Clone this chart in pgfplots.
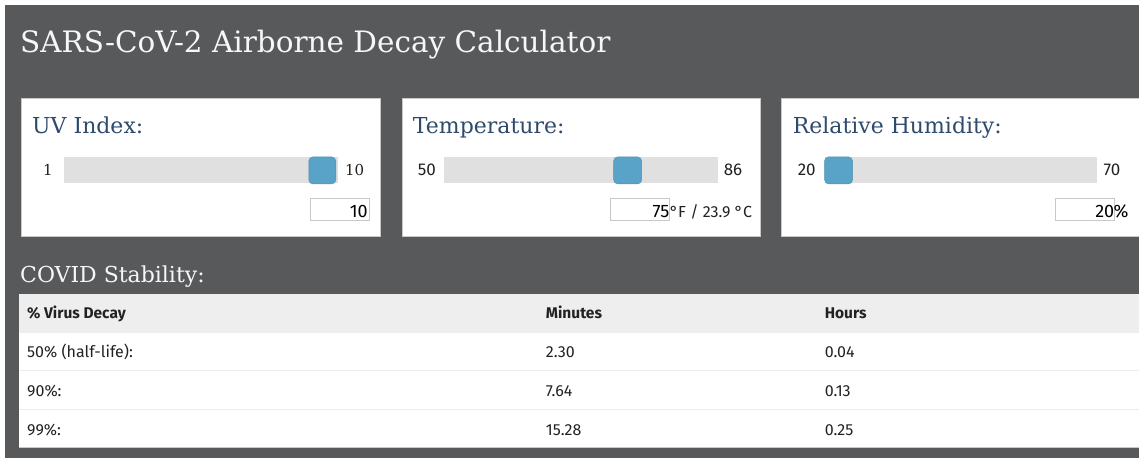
\documentclass[border=0pt]{standalone}
\usepackage{pgfplots}
\pgfplotsset{compat=1.18}
\usepackage{fontspec}
\setmainfont{DejaVu Serif}
\newfontfamily\fira{Fira Sans}
\definecolor{bgdark}{HTML}{58595B}
\definecolor{panelborder}{HTML}{C8C8C8}
\definecolor{titleblue}{HTML}{2F4B6C}
\definecolor{track}{HTML}{E0E0E0}
\definecolor{handle}{HTML}{58A3C7}
\definecolor{handleedge}{HTML}{5092B3}
\definecolor{headbg}{HTML}{EEEEEE}
\definecolor{rowline}{HTML}{ECECEC}
\definecolor{txt}{HTML}{222222}
\definecolor{offwhite}{HTML}{F7F7F7}
\begin{document}
\begin{tikzpicture}
\begin{axis}[width=1140pt,height=458pt,scale only axis,
  xmin=0,xmax=1140,ymin=0,ymax=458,y dir=reverse,
  axis lines=none,ticks=none,clip=false]
% background
\fill[white] (axis cs:0,0) rectangle (axis cs:1140,458);
\fill[bgdark] (axis cs:5,5) rectangle (axis cs:1140,458);
% title
\node[anchor=base west,inner sep=0,text=offwhite,font=\fontsize{29.5}{29.5}\selectfont] at (axis cs:20,53) {SARS-CoV-2 Airborne Decay Calculator};
% panels
\filldraw[fill=white,draw=panelborder] (axis cs:21,98) rectangle (axis cs:380,236);
\filldraw[fill=white,draw=panelborder] (axis cs:402,98) rectangle (axis cs:761,236);
\fill[white] (axis cs:782,98) rectangle (axis cs:1140,236);
\draw[panelborder] (axis cs:1140,98) -- (axis cs:782,98) -- (axis cs:782,236) -- (axis cs:1140,236);
% panel titles
\node[anchor=base west,inner sep=0,text=titleblue,font=\fontsize{22}{22}\selectfont] at (axis cs:32,134) {UV Index:};
\node[anchor=base west,inner sep=0,text=titleblue,font=\fontsize{22}{22}\selectfont] at (axis cs:413,134) {Temperature:};
\node[anchor=base west,inner sep=0,text=titleblue,font=\fontsize{22}{22}\selectfont] at (axis cs:793,134) {Relative Humidity:};
% tracks
\addplot[fill=track,draw=none] coordinates {(64,157) (338,157) (338,183) (64,183)} -- cycle;
\addplot[fill=track,draw=none] coordinates {(444,157) (718,157) (718,183) (444,183)} -- cycle;
\addplot[fill=track,draw=none] coordinates {(825,157) (1098,157) (1098,183) (825,183)} -- cycle;
% handles (UV=10, T=75, RH=20)
\addplot[fill=handle,draw=handleedge,rounded corners=4pt] coordinates {(309,157) (336,157) (336,184) (309,184)} -- cycle;
\addplot[fill=handle,draw=handleedge,rounded corners=4pt] coordinates {(614,157) (642,157) (642,184) (614,184)} -- cycle;
\addplot[fill=handle,draw=handleedge,rounded corners=4pt] coordinates {(825,157) (853,157) (853,184) (825,184)} -- cycle;
% range labels
\node[anchor=base,inner sep=0,text=txt,font=\fontsize{15}{15}\selectfont] at (axis cs:48,176) {1};
\node[anchor=base west,inner sep=0,text=txt,font=\fontsize{15}{15}\selectfont] at (axis cs:345,176) {10};
\node[anchor=base west,inner sep=0,text=txt,font=\fira\fontsize{17}{17}\selectfont] at (axis cs:418,176) {50};
\node[anchor=base west,inner sep=0,text=txt,font=\fira\fontsize{17}{17}\selectfont] at (axis cs:724,176) {86};
\node[anchor=base west,inner sep=0,text=txt,font=\fira\fontsize{17}{17}\selectfont] at (axis cs:798,176) {20};
\node[anchor=base west,inner sep=0,text=txt,font=\fira\fontsize{17}{17}\selectfont] at (axis cs:1104,176) {70};
% input boxes
\filldraw[fill=white,draw=panelborder,line width=1pt] (axis cs:311,199) rectangle (axis cs:370,221);
\filldraw[fill=white,draw=panelborder,line width=1pt] (axis cs:611,199) rectangle (axis cs:670,221);
\filldraw[fill=white,draw=panelborder,line width=1pt] (axis cs:1056,199) rectangle (axis cs:1115,221);
\node[anchor=base east,inner sep=0,text=black,font=\fira\fontsize{18}{18}\selectfont] at (axis cs:368,218) {10};
\node[anchor=base east,inner sep=0,text=black,font=\fira\fontsize{18}{18}\selectfont] at (axis cs:670,218) {75};
\node[anchor=base west,inner sep=0,text=txt,font=\fira\fontsize{16}{16}\selectfont] at (axis cs:670,218) {°F / 23.9 °C};
\node[anchor=base east,inner sep=0,text=black,font=\fira\fontsize{18}{18}\selectfont] at (axis cs:1115,218) {20};
\node[anchor=base west,inner sep=0,text=black,font=\fira\fontsize{18}{18}\selectfont] at (axis cs:1114,218) {\%};
% COVID stability
\node[anchor=base west,inner sep=0,text=offwhite,font=\fontsize{22}{22}\selectfont] at (axis cs:20,283) {COVID Stability:};
% table
\fill[headbg] (axis cs:19,294) rectangle (axis cs:1140,333);
\fill[white] (axis cs:19,333) rectangle (axis cs:1140,448);
\draw[rowline,line width=1.2pt] (axis cs:19,371) -- (axis cs:1140,371);
\draw[rowline,line width=1.2pt] (axis cs:19,410) -- (axis cs:1140,410);
\draw[panelborder,line width=1pt] (axis cs:19,448) -- (axis cs:1140,448);
\node[anchor=base west,inner sep=0,text=txt,font=\fira\bfseries\fontsize{15.5}{15.5}\selectfont] at (axis cs:27,319) {\% Virus Decay};
\node[anchor=base west,inner sep=0,text=txt,font=\fira\bfseries\fontsize{15.5}{15.5}\selectfont] at (axis cs:546,319) {Minutes};
\node[anchor=base west,inner sep=0,text=txt,font=\fira\bfseries\fontsize{15.5}{15.5}\selectfont] at (axis cs:825,319) {Hours};
\node[anchor=base west,inner sep=0,text=txt,font=\fira\fontsize{16}{16}\selectfont] at (axis cs:27,358) {50\% (half-life):};
\node[anchor=base west,inner sep=0,text=txt,font=\fira\fontsize{16}{16}\selectfont] at (axis cs:546,358) {2.30};
\node[anchor=base west,inner sep=0,text=txt,font=\fira\fontsize{16}{16}\selectfont] at (axis cs:825,358) {0.04};
\node[anchor=base west,inner sep=0,text=txt,font=\fira\fontsize{16}{16}\selectfont] at (axis cs:27,397) {90\%:};
\node[anchor=base west,inner sep=0,text=txt,font=\fira\fontsize{16}{16}\selectfont] at (axis cs:546,397) {7.64};
\node[anchor=base west,inner sep=0,text=txt,font=\fira\fontsize{16}{16}\selectfont] at (axis cs:825,397) {0.13};
\node[anchor=base west,inner sep=0,text=txt,font=\fira\fontsize{16}{16}\selectfont] at (axis cs:27,436) {99\%:};
\node[anchor=base west,inner sep=0,text=txt,font=\fira\fontsize{16}{16}\selectfont] at (axis cs:546,436) {15.28};
\node[anchor=base west,inner sep=0,text=txt,font=\fira\fontsize{16}{16}\selectfont] at (axis cs:825,436) {0.25};
\end{axis}
\end{tikzpicture}
\end{document}
